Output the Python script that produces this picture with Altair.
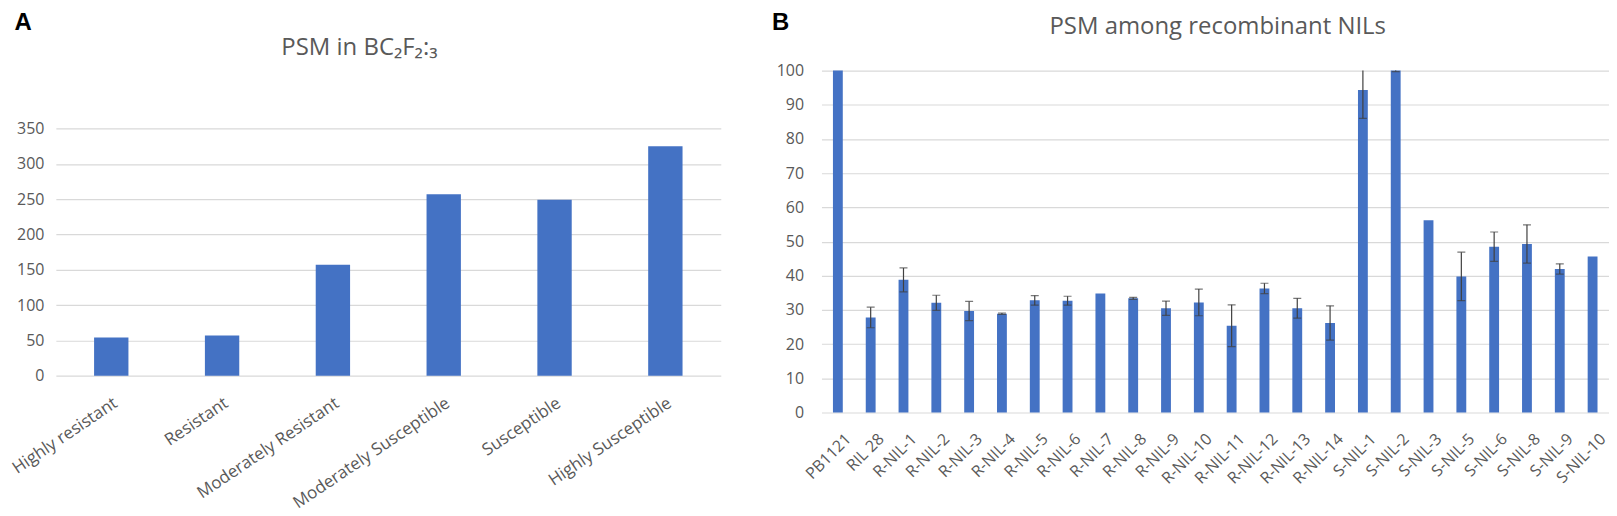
import altair as alt
import pandas as pd

# ---------------- data ----------------
cats_a = ["Highly resistant", "Resistant", "Moderately Resistant",
          "Moderately Susceptible", "Susceptible", "Highly Susceptible"]
vals_a = [54, 57, 157, 257, 249, 325]

cats_b = ["PB1121", "RIL 28",
          "R-NIL-1", "R-NIL-2", "R-NIL-3", "R-NIL-4", "R-NIL-5", "R-NIL-6", "R-NIL-7",
          "R-NIL-8", "R-NIL-9", "R-NIL-10", "R-NIL-11", "R-NIL-12", "R-NIL-13", "R-NIL-14",
          "S-NIL-1", "S-NIL-2", "S-NIL-3", "S-NIL-5", "S-NIL-6", "S-NIL-8", "S-NIL-9", "S-NIL-10"]
vals_b = [100, 27.8, 38.8, 32.1, 29.7, 28.9, 32.8, 32.7, 34.8,
          33.4, 30.5, 32.2, 25.4, 36.3, 30.5, 26.2,
          94.3, 100, 56.2, 39.8, 48.5, 49.3, 42.0, 45.6]
errs_b = [0, 3.0, 3.5, 2.2, 2.8, 0.2, 1.4, 1.3, 0,
          0.3, 2.1, 3.9, 6.1, 1.5, 2.9, 5.0,
          8.3, 0.3, 0, 7.1, 4.3, 5.6, 1.5, 0]

yticks_a = [0, 50, 100, 150, 200, 250, 300, 350]
yticks_b = [0, 10, 20, 30, 40, 50, 60, 70, 80, 90, 100]

df_a = pd.DataFrame({"cls": cats_a, "n": vals_a})
df_b = pd.DataFrame({"line": cats_b, "psm": vals_b, "err": errs_b})
df_b["lo"] = df_b["psm"] - df_b["err"]
df_b["hi"] = df_b["psm"] + df_b["err"]

# ---------------- style ----------------
FONT = "Open Sans"
TXT = "#595959"
BLUE = "#4472C4"
GRID = "#D9D9D9"
ERR = "#404040"

# ---------------- panel A ----------------
# plot area top is shared with panel B; the scale reaches above the 350 gridline
WA, HA = 667, 306
xa = alt.X(
    "cls:N", sort=cats_a,
    scale=alt.Scale(paddingInner=0.69, paddingOuter=0.345),
    axis=alt.Axis(
        title="PSM in BC₂F₂:₃", titleX=304, titleY=-322, titleAngle=0,
        titleAlign="center", titleBaseline="alphabetic", titleFontSize=24,
        titleFontWeight="normal", titleColor=TXT, titleFont=FONT,
        labelAngle=-34, labelAlign="right", labelBaseline="top",
        labelPadding=19, labelOffset=0, labelFontSize=17, labelColor=TXT,
        labelFont=FONT, ticks=False, domain=False, grid=False, labelLimit=400,
    ),
)
ya = alt.Y(
    "n:Q", scale=alt.Scale(domain=[0, 432], nice=False),
    axis=alt.Axis(
        values=yticks_a, title="A", titleX=-42, titleY=-41, titleAngle=0,
        titleAlign="left", titleBaseline="alphabetic", titleFontSize=24,
        titleFontWeight="bold", titleColor="#000000", titleFont="Liberation Sans",
        labelPadding=12, labelFontSize=16, labelColor=TXT, labelFont=FONT,
        ticks=False, domain=False, grid=True, gridColor=GRID, gridWidth=1.2,
    ),
)
panel_a = alt.Chart(df_a).mark_bar(color=BLUE).encode(x=xa, y=ya).properties(width=WA, height=HA)

# ---------------- panel B ----------------
WB, HB = 790, 343
scale_xb = alt.Scale(paddingInner=0.7, paddingOuter=0.35)
scale_yb = alt.Scale(domain=[0, 100], nice=False)
axis_xb = alt.Axis(
    title="PSM among recombinant NILs", titleX=397, titleY=-380, titleAngle=0,
    titleAlign="center", titleBaseline="alphabetic", titleFontSize=24,
    titleFontWeight="normal", titleColor=TXT, titleFont=FONT,
    labelAngle=-45, labelAlign="right", labelBaseline="top",
    labelPadding=18, labelOffset=5, labelFontSize=16, labelColor=TXT,
    labelFont=FONT, ticks=False, domain=False, grid=False, labelLimit=400,
)
axis_yb = alt.Axis(
    values=yticks_b, title="B", titleX=-50, titleY=-41, titleAngle=0,
    titleAlign="left", titleBaseline="alphabetic", titleFontSize=24,
    titleFontWeight="bold", titleColor="#000000", titleFont="Liberation Sans",
    labelPadding=18, labelFontSize=16, labelColor=TXT, labelFont=FONT,
    ticks=False, domain=False, grid=True, gridColor=GRID, gridWidth=1.2,
)
xb = alt.X("line:N", sort=cats_b, scale=scale_xb, axis=axis_xb)

bars_b = alt.Chart(df_b).mark_bar(color=BLUE).encode(
    x=xb, y=alt.Y("psm:Q", scale=scale_yb, axis=axis_yb))

base_err = alt.Chart(df_b).transform_filter("datum.err > 0")
rule_b = base_err.mark_rule(color=ERR, strokeWidth=1.2, clip=True).encode(
    x=xb, y=alt.Y("lo:Q", scale=scale_yb, axis=axis_yb), y2="hi:Q")
cap_hi = base_err.mark_tick(color=ERR, thickness=1.2, size=8, clip=True).encode(
    x=xb, y=alt.Y("hi:Q", scale=scale_yb, axis=axis_yb))
cap_lo = base_err.mark_tick(color=ERR, thickness=1.2, size=8, clip=True).encode(
    x=xb, y=alt.Y("lo:Q", scale=scale_yb, axis=axis_yb))

panel_b = alt.layer(bars_b, rule_b, cap_hi, cap_lo).properties(width=WB, height=HB)

chart = alt.hconcat(panel_a, panel_b, spacing=51).properties(
    padding={"left": 0, "top": 2, "right": 0, "bottom": 2}
).configure_view(stroke=None)

chart.save("out.html", embed_options={"renderer": "svg", "actions": False})
